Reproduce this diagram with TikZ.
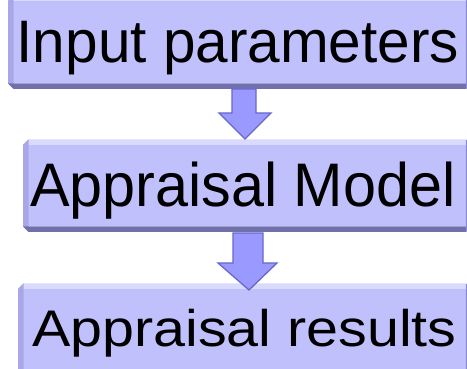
\documentclass[tikz,border=0pt]{standalone}
\usepackage{fontspec}
\usepackage{graphicx}
\setmainfont{Liberation Sans}
\definecolor{boxfill}{RGB}{192,192,252}
\definecolor{bevtop}{RGB}{218,218,255}
\definecolor{bevleft}{RGB}{168,168,232}
\definecolor{bevbottom}{RGB}{112,112,172}
\definecolor{bevright}{RGB}{140,140,205}
\definecolor{arrowfill}{RGB}{153,153,255}
\definecolor{arrowline}{RGB}{104,104,200}
\tikzset{
  panel/.style={rectangle, fill=boxfill, draw=none, inner sep=0pt, anchor=north west},
  label/.style={anchor=base west, inner sep=0pt, text=black},
  blockarrow/.style={fill=arrowfill, draw=arrowline, line width=1.3pt, line join=miter},
}
% bevelled frame around a named panel node
\newcommand{\bevelpanel}[2]{%
  \fill[bevtop] (#1.north west) -- (#1.north east) -- ([shift={(-#2,#2)}]#1.north east) -- ([shift={(#2,#2)}]#1.north west) -- cycle;
  \fill[bevleft] (#1.north west) -- ([shift={(#2,#2)}]#1.north west) -- ([shift={(#2,-#2)}]#1.south west) -- (#1.south west) -- cycle;
  \fill[bevbottom] (#1.south west) -- ([shift={(#2,-#2)}]#1.south west) -- ([shift={(-#2,-#2)}]#1.south east) -- (#1.south east) -- cycle;
  \fill[bevright] (#1.north east) -- (#1.south east) -- ([shift={(-#2,-#2)}]#1.south east) -- ([shift={(-#2,#2)}]#1.north east) -- cycle;
}
\begin{document}
\begin{tikzpicture}[x=1pt, y=-1pt]
  \useasboundingbox (0,0) rectangle (467,369);
  \fill[white] (0,0) rectangle (467,369);

  % panels
  \node[panel, minimum width=463pt, minimum height=82pt] (box1) at (8,1) {};
  \node[panel, minimum width=448pt, minimum height=81pt] (box2) at (23,145) {};
  \node[panel, minimum width=453pt, minimum height=80pt] (box3) at (18,289) {};
  \bevelpanel{box1}{5.5pt}
  \bevelpanel{box2}{5.5pt}
  \bevelpanel{box3}{5.5pt}

  % labels
  \node[label, font=\fontsize{60}{62}\selectfont] (t1) at (16.5,63) {\scalebox{0.975}[1]{Input parameters}};
  \node[label, font=\fontsize{61.5}{63}\selectfont] (t2) at (30,207) {\scalebox{0.965}[1]{Appraisal Model}};
  \node[label, font=\fontsize{51.5}{53}\selectfont] (t3) at (32,346) {\scalebox{1.115}[1]{Appraisal results}};

  % block arrows between the panels
  \draw[blockarrow] (232,89) -- (256,89) -- (256,113) -- (271,113) -- (245,139)
    -- (219,113) -- (232,113) -- cycle;
  \draw[blockarrow] (233,233) -- (263,233) -- (263,263) -- (277,263) -- (249,290)
    -- (218,263) -- (233,263) -- cycle;
\end{tikzpicture}
\end{document}
